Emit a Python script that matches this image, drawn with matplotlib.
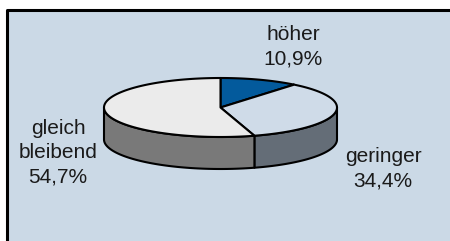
import numpy as np
import matplotlib
matplotlib.use("Agg")
import matplotlib.pyplot as plt
from matplotlib.patches import Polygon, Rectangle

# data
categories = ["höher", "geringer", "gleich\nbleibend"]
values = [10.9, 34.4, 54.7]
top_colors = ["#035a9c", "#cfdbe8", "#ebebeb"]
side_colors = ["#003c6a", "#646d77", "#797979"]
label_pos = [(293, 46.5), (383, 168.5), (58, 153)]

plt.rcParams['font.family'] = ['Liberation Sans', 'DejaVu Sans']

fig = plt.figure(figsize=(4.5, 2.41), dpi=100)
ax = fig.add_axes([0, 0, 1, 1])
ax.set_xlim(0, 450)
ax.set_ylim(241, 0)
ax.axis('off')

# background panel
ax.add_patch(Rectangle((6.5, 9.5), 443, 240, facecolor="#cbd9e6", edgecolor="none"))
ax.plot([6.5, 6.5, 450], [241, 9.5, 9.5], color="black", lw=2.2, solid_capstyle='butt')

cx, cy, rx, ry, depth = 220.5, 107.5, 116.5, 29.5, 32
lw = 1.5

def pt(a, dy=0):
    return (cx + rx * np.cos(np.radians(a)), cy - ry * np.sin(np.radians(a)) + dy)

total = sum(values)
angles = []
start = 90.0
for v in values:
    end = start - v / total * 360
    angles.append((start, end))
    start = end

# sides (front half: angles between -180 and 0)
for (a0, a1), sc in zip(angles, side_colors):
    for off in (0, -360):
        s, e = a0 + off, a1 + off
        lo, hi = max(e, -180), min(s, 0)
        if hi > lo:
            th = np.linspace(hi, lo, 80)
            topp = [pt(t) for t in th]
            bot = [pt(t, depth) for t in th[::-1]]
            ax.add_patch(Polygon(topp + bot, closed=True, facecolor=sc,
                                 edgecolor="black", lw=lw, joinstyle='round'))

# tops
for (a0, a1), tc in zip(angles, top_colors):
    th = np.linspace(a0, a1, 120)
    pts = [(cx, cy)] + [pt(t) for t in th]
    ax.add_patch(Polygon(pts, closed=True, facecolor=tc, edgecolor="black",
                         lw=lw, joinstyle='round'))

# labels
for cat, v, (x, y) in zip(categories, values, label_pos):
    txt = cat + "\n" + f"{v:.1f}".replace('.', ',') + "%"
    ax.text(x, y, txt, ha='center', va='center', fontsize=15,
            color="#1a1a1a", linespacing=1.35)

fig.savefig("out.png", dpi=100)
